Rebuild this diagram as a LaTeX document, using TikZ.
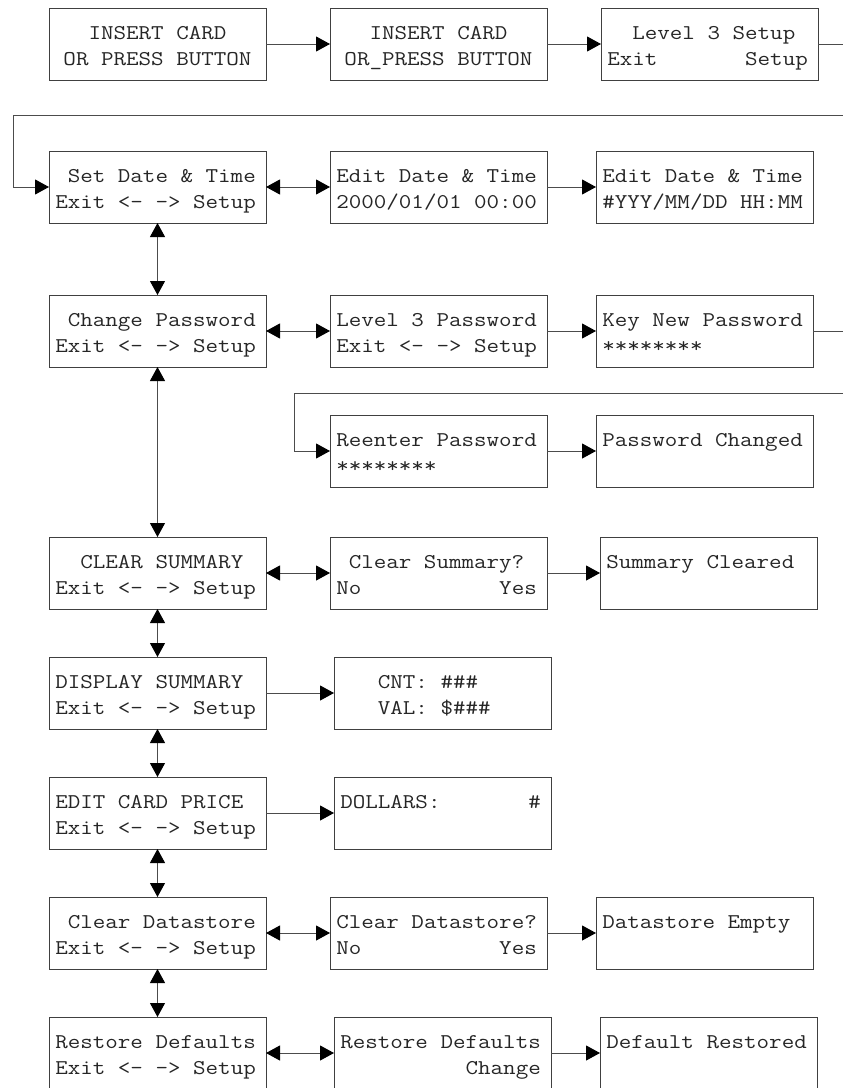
\documentclass[tikz,border=0pt]{standalone}
\usepackage{graphicx}
\usetikzlibrary{arrows.meta}
\newlength\lcdcw
\setlength\lcdcw{11.025pt}
\newcommand\lcdstrut{\rule[-5pt]{0pt}{26pt}}
\newcommand\Lline[1]{\hbox to 16\lcdcw{\lcdstrut#1\hfil}}
\newcommand\Cline[1]{\hbox to 16\lcdcw{\lcdstrut\hfil#1\hfil}}
\newcommand\lcd[2]{\scalebox{1.159}[1]{\vbox{\offinterlineskip\Lline{#1}\Lline{#2}}}}
\newcommand\lcdc[2]{\scalebox{1.159}[1]{\vbox{\offinterlineskip\Cline{#1}\Cline{#2}}}}
\begin{document}
\begin{tikzpicture}[x=1pt,y=-1pt,
  box/.style={draw=black!75,line width=1pt,anchor=north west,minimum width=217pt,minimum height=72pt,inner sep=0pt,outer sep=0pt,text=black!85,font=\ttfamily\fontsize{21}{26}\selectfont},
  arr/.style={draw=black!70,line width=1pt,-{Triangle[length=14pt,width=15pt,color=black]}},
  darr/.style={draw=black!70,line width=1pt,{Triangle[length=14pt,width=15pt,color=black]}-{Triangle[length=14pt,width=15pt,color=black]}}]
\useasboundingbox (0,0) rectangle (843,1088);
\clip (0,0) rectangle (843,1088);
% row A
\node[box] (A1) at (49,8) {\lcdc{INSERT~CARD}{OR~PRESS~BUTTON}};
\node[box] (A2) at (330,8) {\lcdc{INSERT~CARD}{OR\_PRESS~BUTTON}};
\node[box] (A3) at (601,8) {\lcd{~~Level~3~Setup}{Exit~~~~~~~Setup}};
% row B
\node[box] (B1) at (49,151) {\lcd{~Set~Date~\&~Time}{Exit~<-~->~Setup}};
\node[box] (B2) at (330,151) {\lcd{Edit~Date~\&~Time}{2000/01/01~00:00}};
\node[box] (B3) at (596,151) {\lcd{Edit~Date~\&~Time}{\#YYY/MM/DD~HH:MM}};
% row C
\node[box] (C1) at (49,295) {\lcd{~Change~Password}{Exit~<-~->~Setup}};
\node[box] (C2) at (330,295) {\lcd{Level~3~Password}{Exit~<-~->~Setup}};
\node[box] (C3) at (596,295) {\lcd{Key~New~Password}{********}};
% row D
\node[box] (D2) at (330,415) {\lcd{Reenter~Password}{********}};
\node[box] (D3) at (596,415) {\lcd{Password~Changed}{}};
% row E
\node[box] (E1) at (49,537) {\lcd{~~CLEAR~SUMMARY}{Exit~<-~->~Setup}};
\node[box] (E2) at (330,537) {\lcd{~Clear~Summary?}{No~~~~~~~~~~~Yes}};
\node[box] (E3) at (600,537) {\lcd{Summary~Cleared}{}};
% row F
\node[box] (F1) at (49,657) {\lcd{DISPLAY~SUMMARY}{Exit~<-~->~Setup}};
\node[box] (F2) at (334,657) {\lcd{~~~CNT:~\#\#\#}{~~~VAL:~\$\#\#\#}};
% row G
\node[box] (G1) at (49,777) {\lcd{EDIT~CARD~PRICE}{Exit~<-~->~Setup}};
\node[box] (G2) at (334,777) {\lcd{DOLLARS:~~~~~~~\#}{}};
% row H
\node[box] (H1) at (49,897) {\lcd{~Clear~Datastore}{Exit~<-~->~Setup}};
\node[box] (H2) at (330,897) {\lcd{Clear~Datastore?}{No~~~~~~~~~~~Yes}};
\node[box] (H3) at (596,897) {\lcd{Datastore~Empty}{}};
% row I
\node[box] (I1) at (49,1017) {\lcd{Restore~Defaults}{Exit~<-~->~Setup}};
\node[box] (I2) at (334,1017) {\lcd{Restore~Defaults}{~~~~~~~~~~Change}};
\node[box] (I3) at (600,1017) {\lcd{Default~Restored}{}};
% horizontal connectors
\draw[arr] (A1.east) -- (A2.west);
\draw[arr] (A2.east) -- (A3.west);
\draw[darr] (B1.east) -- (B2.west);
\draw[arr] (B2.east) -- (B3.west);
\draw[darr] (C1.east) -- (C2.west);
\draw[arr] (C2.east) -- (C3.west);
\draw[arr] (D2.east) -- (D3.west);
\draw[darr] (E1.east) -- (E2.west);
\draw[arr] (E2.east) -- (E3.west);
\draw[arr] (F1.east) -- (F2.west);
\draw[arr] (G1.east) -- (G2.west);
\draw[darr] (H1.east) -- (H2.west);
\draw[arr] (H2.east) -- (H3.west);
\draw[darr] (I1.east) -- (I2.west);
\draw[arr] (I2.east) -- (I3.west);
% wrap connectors
\coordinate (wr1) at (870,115);
\coordinate (wl1) at (13,115);
\draw[arr] (A3.east) -| (wr1) -- (wl1) |- (B1.west);
\coordinate (wr2) at (870,393);
\coordinate (wl2) at (294,393);
\draw[arr] (C3.east) -| (wr2) -- (wl2) |- (D2.west);
% vertical connectors
\draw[darr] (B1.south) -- (C1.north);
\draw[darr] (C1.south) -- (E1.north);
\draw[darr] (E1.south) -- (F1.north);
\draw[darr] (F1.south) -- (G1.north);
\draw[darr] (G1.south) -- (H1.north);
\draw[darr] (H1.south) -- (I1.north);
\end{tikzpicture}
\end{document}
